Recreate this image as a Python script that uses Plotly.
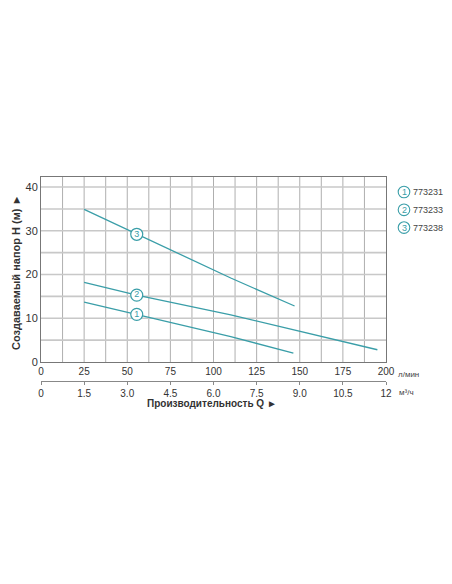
import plotly.graph_objects as go

# ---- data ----
q_1 = [25, 55.5, 110, 146.3]
h_1 = [13.7, 10.9, 5.8, 2.05]
q_2 = [25, 55.5, 110, 195]
h_2 = [18.2, 15.3, 10.8, 2.8]
q_3 = [25, 55.5, 110, 147]
h_3 = [34.9, 29.2, 19.2, 12.8]
label_q = [55.5, 55.5, 55.5]
label_h = [10.9, 15.3, 29.2]
label_txt = ["1", "2", "3"]
models = ["773231", "773233", "773238"]
x_ticks = [0, 25, 50, 75, 100, 125, 150, 175, 200]
x2_ticks = [0, 1.5, 3.0, 4.5, 6.0, 7.5, 9.0, 10.5, 12]
x2_labels = ["0", "1.5", "3.0", "4.5", "6.0", "7.5", "9.0", "10.5", "12"]
y_ticks = [0, 10, 20, 30, 40]

TEAL = "#3a9ea8"
FONT = "Liberation Sans, Arial, sans-serif"

O = 8  # page body margin offset
W, H = 452 - O, 584 - O
L, T = 41 - O, 177 - O
R = W - (386 - O)
B = H - (381 - O)
pw, ph = W - L - R, H - T - B
ydom0 = 19 / ph

fig = go.Figure()
for q, h in [(q_1, h_1), (q_2, h_2), (q_3, h_3)]:
    fig.add_trace(go.Scatter(x=q, y=h, mode="lines", line=dict(color=TEAL, width=1.3),
                             hoverinfo="skip", showlegend=False))
fig.add_trace(go.Scatter(x=label_q, y=label_h, mode="markers+text", text=label_txt,
                         textposition="middle center",
                         textfont=dict(color=TEAL, size=9, family=FONT),
                         marker=dict(size=12, color="white", line=dict(color=TEAL, width=1.2)),
                         showlegend=False, hoverinfo="skip"))
fig.add_trace(go.Scatter(x=[0, 12], y=[0, 0], xaxis="x2", yaxis="y", mode="markers",
                         marker=dict(opacity=0), showlegend=False, hoverinfo="skip"))

fig.update_layout(
    width=W, height=H, margin=dict(l=L, r=R, t=T, b=B),
    paper_bgcolor="white", plot_bgcolor="white",
    font=dict(family=FONT, color="#333333", size=10),
    xaxis=dict(range=[0, 200], tickvals=x_ticks, ticks="", showgrid=False, automargin=False,
               showline=True, linecolor="#777777", linewidth=1, mirror=True,
               zeroline=False, anchor="y", tickfont=dict(size=10, color="#333333")),
    xaxis2=dict(range=[0, 12], tickvals=x2_ticks, ticktext=x2_labels, overlaying="x",
                anchor="free", position=0, side="bottom", showgrid=False, showline=True,
                automargin=False, linecolor="#888888", linewidth=1, ticks="outside", ticklen=3,
                tickcolor="#888888", zeroline=False, tickfont=dict(size=10, color="#333333")),
    yaxis=dict(range=[0, 42.3], domain=[ydom0, 1], tickvals=y_ticks, showgrid=False,
               automargin=False, showline=True, linecolor="#777777", linewidth=1, mirror=True,
               zeroline=False, ticks="", tickfont=dict(size=11, color="#333333")),
)

for v in range(1, 16):
    fig.add_shape(type="line", x0=v * 12.5, x1=v * 12.5, y0=0, y1=42.3, xref="x", yref="y",
                  line=dict(color="#9a9a9a", width=0.8), layer="below")
for v in range(1, 9):
    fig.add_shape(type="line", x0=0, x1=200, y0=v * 5, y1=v * 5, xref="x", yref="y",
                  line=dict(color="#c8c8c8", width=1.6), layer="below")

def px_x(p):
    return (p - O - L) / pw

def px_y(p):
    return (H - B - (p - O)) / ph

ann = []
ann.append(dict(text="<b>Создаваемый напор H (м) ►</b>", textangle=-90, x=px_x(16), y=px_y(273),
                xanchor="center", yanchor="middle",
                xref="paper", yref="paper", showarrow=False, font=dict(size=11, color="#333333")))
ann.append(dict(text="<b>Производительность Q ►</b>", x=px_x(212), y=px_y(403),
                xanchor="center", yanchor="middle",
                xref="paper", yref="paper", showarrow=False, font=dict(size=10, color="#333333")))
ann.append(dict(text="л/мин", x=px_x(396), y=px_y(374), xanchor="left", yanchor="middle",
                xref="paper", yref="paper", showarrow=False, font=dict(size=8, color="#444444")))
ann.append(dict(text="м³/ч", x=px_x(397), y=px_y(392), xanchor="left", yanchor="middle",
                xref="paper", yref="paper", showarrow=False, font=dict(size=8, color="#444444")))

for i, m in enumerate(models):
    cy = 192 + i * 17.8
    cx = 404
    r = 5.8
    fig.add_shape(type="circle", xref="paper", yref="paper",
                  x0=px_x(cx - r), x1=px_x(cx + r), y0=px_y(cy + r), y1=px_y(cy - r),
                  line=dict(color=TEAL, width=1.1), fillcolor="white")
    ann.append(dict(text=label_txt[i], x=px_x(cx), y=px_y(cy), xanchor="center", yanchor="middle",
                    xref="paper", yref="paper",
                    showarrow=False, font=dict(size=9, color=TEAL)))
    ann.append(dict(text=m, x=px_x(411), y=px_y(cy), xanchor="left", yanchor="middle",
                    xref="paper", yref="paper",
                    showarrow=False, font=dict(size=9, color="#444444")))

fig.update_layout(annotations=ann)
fig.write_html("out.html")
